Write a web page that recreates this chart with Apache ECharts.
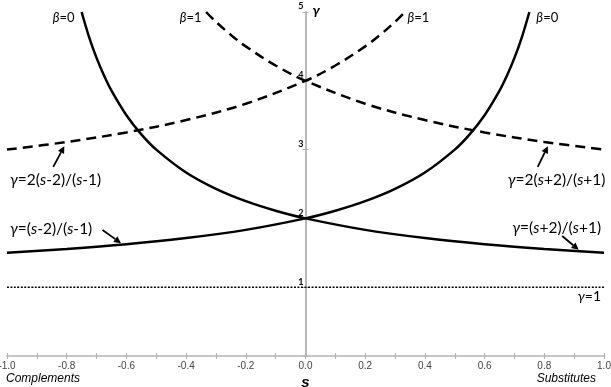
<!DOCTYPE html>
<html><head><meta charset="utf-8">
<script src="https://cdn.jsdelivr.net/npm/echarts@6/dist/echarts.min.js"></script>
<style>html,body{margin:0;padding:0;background:#fff}#c{width:611px;height:387px}</style>
</head><body><div id="c"></div>
<script>
// beta=0, gamma=(s+2)/(s+1)
const sA = [-0.75,-0.725,-0.7,-0.675,-0.65,-0.6,-0.55,-0.5,-0.4,-0.3,-0.2,-0.1,0,0.2,0.4,0.6,0.8,1.0];
const gA = [5,4.636,4.333,4.077,3.857,3.5,3.222,3,2.667,2.429,2.25,2.111,2,1.833,1.714,1.625,1.556,1.5];
// beta=0, gamma=(s-2)/(s-1)
const sB = [-1.0,-0.8,-0.6,-0.4,-0.2,0,0.1,0.2,0.3,0.4,0.5,0.55,0.6,0.65,0.675,0.7,0.725,0.75];
const gB = [1.5,1.556,1.625,1.714,1.833,2,2.111,2.25,2.429,2.667,3,3.222,3.5,3.857,4.077,4.333,4.636,5];
// beta=1, gamma=2(s+2)/(s+1)
const sC = [-0.333,-0.3,-0.25,-0.2,-0.1,0,0.2,0.4,0.6,0.8,1.0];
const gC = [5,4.857,4.667,4.5,4.222,4,3.667,3.429,3.25,3.111,3];
// beta=1, gamma=2(s-2)/(s-1)
const sD = [-1.0,-0.8,-0.6,-0.4,-0.2,0,0.1,0.2,0.25,0.3,0.333];
const gD = [3,3.111,3.25,3.429,3.667,4,4.222,4.5,4.667,4.857,5];
// gamma=1
const sE = [-1.0,1.0];
const gE = [1,1];
const yTickLabels = ['1', '2', '3', '4', '5'];
const yTickValues = [1, 2, 3, 4, 5];

const pair = (s, g) => s.map((v, i) => [v, g[i]]);
const chart = echarts.init(document.getElementById('c'));
const F = 'Lato, "Open Sans", sans-serif';
const AX = '#b4b4b4';
const lineS = (data, type, w) => ({
  type: 'line', data, smooth: 0.35, showSymbol: false, symbol: 'none', silent: true,
  lineStyle: {color: '#000', width: w, type}, z: 3
});
chart.setOption({
  animation: false,
  grid: {left: 7, right: 7, top: 12, bottom: 31, containLabel: false, outerBoundsMode: 'none'},
  xAxis: [{
    type: 'value', min: -1, max: 1, interval: 0.1,
    axisLine: {lineStyle: {color: AX, width: 1.5}},
    axisTick: {show: true, length: 3, lineStyle: {color: AX, width: 1.2}},
    axisLabel: {formatter: v => (Math.round(v * 10) % 2 === 0) ? v.toFixed(1) : '',
      color: '#444', fontFamily: 'Liberation Sans, Arial', fontSize: 10, margin: 5},
    splitLine: {show: false}
  }, {
    type: 'value', min: -1, max: 1, interval: 0.1, position: 'bottom',
    axisLine: {show: false},
    axisTick: {show: true, inside: true, length: 3, lineStyle: {color: AX, width: 1.2}},
    axisLabel: {show: false}, splitLine: {show: false}
  }],
  yAxis: [{
    type: 'value', min: 0, max: 5, interval: 1,
    axisLine: {onZero: true, onZeroAxisIndex: 0, lineStyle: {color: AX, width: 1.5}},
    axisTick: {show: true, inside: true, length: 3, lineStyle: {color: AX, width: 1}},
    axisLabel: {show: false},
    splitLine: {show: false}
  }, {
    type: 'value', min: 0, max: 5, interval: 1, position: 'left',
    axisLine: {show: true, onZero: true, onZeroAxisIndex: 0, lineStyle: {color: AX, width: 1.5}},
    axisTick: {show: true, inside: false, length: 3, lineStyle: {color: AX, width: 1}},
    axisLabel: {show: false},
    splitLine: {show: false}
  }],
  series: [
    lineS(pair(sA, gA), 'solid', 2.5),
    lineS(pair(sB, gB), 'solid', 2.5),
    lineS(pair(sC, gC), [10, 6], 2.5),
    lineS(pair(sD, gD), [10, 6], 2.5),
    lineS(pair(sE, gE), [2, 1.5], 1.5)
  ]
});

const P = (s, g) => chart.convertToPixel({xAxisIndex: 0, yAxisIndex: 0}, [s, g]);
const mkRich = sz => ({s: {fontStyle: 'italic', fontFamily: F, fontSize: sz, fill: '#000'}, n: {fontFamily: F, fontSize: sz, fill: '#000'}});
function txt(s, g, str, align, sz) {
  const p = P(s, g);
  return {type: 'text', x: p[0], y: p[1], z: 10,
    style: {text: str, rich: mkRich(sz), align: align, verticalAlign: 'middle', font: sz + 'px ' + F, fill: '#000'}};
}
function arrow(s1, g1, s2, g2) {
  const a = P(s1, g1), b = P(s2, g2);
  const ang = Math.atan2(b[1] - a[1], b[0] - a[0]);
  const L = 7, W = 3.5;
  const bx = b[0] - L * Math.cos(ang), by = b[1] - L * Math.sin(ang);
  const px = -Math.sin(ang) * W, py = Math.cos(ang) * W;
  return [
    {type: 'line', z: 10, shape: {x1: a[0], y1: a[1], x2: bx, y2: by}, style: {stroke: '#000', lineWidth: 1.8}},
    {type: 'polygon', z: 10, shape: {points: [[b[0], b[1]], [bx + px, by + py], [bx - px, by - py]]}, style: {fill: '#000'}}
  ];
}
const g = [];
g.push(txt(-0.81, 4.91, '{s|β}{n|=0}', 'center', 13));
g.push(txt(-0.385, 4.91, '{s|β}{n|=1}', 'center', 13));
g.push(txt(0.378, 4.91, '{s|β}{n|=1}', 'center', 13));
g.push(txt(0.81, 4.91, '{s|β}{n|=0}', 'center', 13));
g.push(txt(-0.99, 2.56, '{s|γ}{n|=2(}{s|s}{n|-2)/(}{s|s}{n|-1)}', 'left', 15.5));
g.push(txt(-0.99, 1.846, '{s|γ}{n|=(}{s|s}{n|-2)/(}{s|s}{n|-1)}', 'left', 15.5));
g.push(txt(1.005, 2.56, '{s|γ}{n|=2(}{s|s}{n|+2)/(}{s|s}{n|+1)}', 'right', 15.5));
g.push(txt(0.99, 1.86, '{s|γ}{n|=(}{s|s}{n|+2)/(}{s|s}{n|+1)}', 'right', 15.5));
g.push(txt(0.99, 0.86, '{s|γ}{n|=1}', 'right', 14));
g.push(...arrow(-0.845, 2.75, -0.808, 3.05));
g.push(...arrow(-0.68, 1.83, -0.618, 1.64));
g.push(...arrow(0.778, 2.75, 0.812, 3.05));
g.push(...arrow(0.86, 1.744, 0.915, 1.545));
// y tick labels
yTickValues.forEach((v, i) => {
  const p = P(0, v);
  g.push({type: 'text', x: p[0] - 2, y: p[1] - 1, z: 10,
    style: {text: yTickLabels[i], font: 'bold 9px ' + F, fill: '#000', align: 'right', verticalAlign: 'bottom'}});
});
// axis titles
const yt = P(0, 5);
g.push({type: 'text', x: yt[0] + 7, y: yt[1] - 2, z: 10,
  style: {text: 'γ', font: 'bold italic 14px ' + F, fill: '#000', verticalAlign: 'middle'}});
const xo = P(0, 0), xl = P(-1, 0), xr = P(1, 0);
g.push({type: 'text', x: xo[0], y: xo[1] + 27, z: 10,
  style: {text: 's', font: 'bold italic 15px "Liberation Sans", Arial', fill: '#000', align: 'center', verticalAlign: 'middle'}});
g.push({type: 'text', x: xl[0] - 1, y: xo[1] + 23, z: 10,
  style: {text: 'Complements', font: 'italic 12px "Liberation Sans", Arial', fill: '#000', align: 'left', verticalAlign: 'middle'}});
g.push({type: 'text', x: xr[0] - 8, y: xo[1] + 23, z: 10,
  style: {text: 'Substitutes', font: 'italic 12px "Liberation Sans", Arial', fill: '#000', align: 'right', verticalAlign: 'middle'}});
chart.setOption({graphic: g});
</script></body></html>
